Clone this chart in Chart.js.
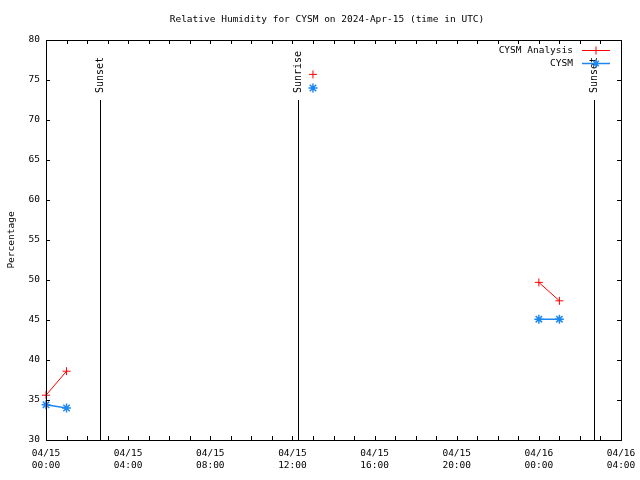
<!DOCTYPE html>
<html>
<head>
<meta charset="utf-8">
<script src="https://cdn.jsdelivr.net/npm/chart.js@4/dist/chart.umd.min.js"></script>
<style>
  html, body { margin: 0; padding: 0; background: #fff; }
  canvas { display: block; }
</style>
</head>
<body>
<canvas id="rhChart" width="640" height="480"></canvas>
<script>
// hours since 04/15 00:00 UTC
const hours = [0, 1, 13, 24, 25];
const analysisValues = [35.6, 38.6, 75.7, 49.7, 47.4];
const observedValues = [34.4, 34.0, 74.0, 45.1, 45.1];

const sunHours = [2.63, 12.27, 26.68];
const sunLabels = ["Sunset", "Sunrise", "Sunset"];
const sunLineTop = 72.5;

const xLabelHours = [0, 4, 8, 12, 16, 20, 24, 28];
const xLabelText = [
  ["04/15", "00:00"], ["04/15", "04:00"], ["04/15", "08:00"], ["04/15", "12:00"],
  ["04/15", "16:00"], ["04/15", "20:00"], ["04/16", "00:00"], ["04/16", "04:00"]
];

const titleText = "Relative Humidity for CYSM on 2024-Apr-15 (time in UTC)";

const RED = "#ff0000";
const BLUE = "#1e88ee";
const FONT = "'DejaVu Sans Mono', monospace";

Chart.defaults.font.family = FONT;
Chart.defaults.font.size = 9.5;
Chart.defaults.color = "#000";

const toPoints = (vals) => hours.map((h, i) => ({ x: h, y: vals[i] }));

// sunrise/sunset markers
const sunPlugin = {
  id: "sunLines",
  beforeDatasetsDraw(chart) {
    const { ctx, scales: { x, y } } = chart;
    ctx.save();
    ctx.strokeStyle = "#000";
    ctx.lineWidth = 1;
    ctx.fillStyle = "#000";
    ctx.font = "10px " + FONT;
    sunHours.forEach((h, i) => {
      const px = Math.round(x.getPixelForValue(h)) + 0.5;
      const top = y.getPixelForValue(sunLineTop);
      ctx.beginPath();
      ctx.moveTo(px, y.getPixelForValue(30));
      ctx.lineTo(px, top);
      ctx.stroke();
      ctx.save();
      ctx.translate(px, top - 7);
      ctx.rotate(-Math.PI / 2);
      ctx.textAlign = "left";
      ctx.textBaseline = "middle";
      ctx.fillText(sunLabels[i], 0, 0);
      ctx.restore();
    });
    ctx.restore();
  }
};

// gnuplot style frame, inward ticks, title and legend
const framePlugin = {
  id: "frame",
  afterDraw(chart) {
    const { ctx, chartArea: a, scales: { x, y } } = chart;
    ctx.save();
    ctx.strokeStyle = "#000";
    ctx.lineWidth = 1;
    ctx.strokeRect(Math.round(a.left) + 0.5, Math.round(a.top) + 0.5,
      Math.round(a.right - a.left), Math.round(a.bottom - a.top));
    ctx.beginPath();
    x.ticks.forEach(t => {
      const px = Math.round(x.getPixelForValue(t.value)) + 0.5;
      ctx.moveTo(px, a.bottom); ctx.lineTo(px, a.bottom - 4);
      ctx.moveTo(px, a.top); ctx.lineTo(px, a.top + 4);
    });
    y.ticks.forEach(t => {
      const py = Math.round(y.getPixelForValue(t.value)) + 0.5;
      ctx.moveTo(a.left, py); ctx.lineTo(a.left + 4, py);
      ctx.moveTo(a.right, py); ctx.lineTo(a.right - 4, py);
    });
    ctx.stroke();

    ctx.font = "9.5px " + FONT;
    ctx.fillStyle = "#000";
    ctx.textAlign = "center";
    ctx.textBaseline = "middle";
    ctx.fillText(titleText, 327, 19.5);

    // legend
    ctx.textAlign = "right";
    const items = [
      { label: "CYSM Analysis", color: RED, star: false, lw: 1 },
      { label: "CYSM", color: BLUE, star: true, lw: 1.5 }
    ];
    items.forEach((it, i) => {
      const yy = 50 + i * 13 + 0.5;
      ctx.fillStyle = "#000";
      ctx.fillText(it.label, 573, yy);
      ctx.strokeStyle = it.color;
      ctx.lineWidth = it.lw;
      ctx.beginPath();
      ctx.moveTo(582, yy); ctx.lineTo(610, yy);
      const cx = 596, r = 4;
      ctx.moveTo(cx, yy - r); ctx.lineTo(cx, yy + r);
      if (it.star) {
        const d = r * 0.707;
        ctx.moveTo(cx - d, yy - d); ctx.lineTo(cx + d, yy + d);
        ctx.moveTo(cx - d, yy + d); ctx.lineTo(cx + d, yy - d);
      } else {
        ctx.moveTo(cx - r, yy); ctx.lineTo(cx + r, yy);
      }
      ctx.stroke();
    });
    ctx.restore();
  }
};

new Chart(document.getElementById("rhChart").getContext("2d"), {
  type: "line",
  data: {
    datasets: [
      {
        label: "CYSM Analysis",
        data: toPoints(analysisValues),
        borderColor: RED,
        backgroundColor: RED,
        borderWidth: 1,
        pointStyle: "cross",
        pointRadius: 4,
        pointBorderWidth: 1,
        pointHoverRadius: 4,
        spanGaps: 3,
        tension: 0,
        clip: false
      },
      {
        label: "CYSM",
        data: toPoints(observedValues),
        borderColor: BLUE,
        backgroundColor: BLUE,
        borderWidth: 1.5,
        pointStyle: "star",
        pointRadius: 4.5,
        pointBorderWidth: 1.5,
        pointHoverRadius: 4.5,
        spanGaps: 3,
        tension: 0,
        clip: false
      }
    ]
  },
  options: {
    responsive: false,
    animation: false,
    layout: { padding: { left: 0, right: 19, top: 40, bottom: 0 } },
    plugins: {
      legend: { display: false },
      tooltip: { enabled: false },
      title: { display: false }
    },
    scales: {
      x: {
        type: "linear",
        min: 0,
        max: 28,
        grid: { display: false, drawTicks: false, tickLength: 0 },
        border: { display: false },
        ticks: {
          stepSize: 1,
          autoSkip: false,
          maxRotation: 0,
          padding: 8,
          font: { size: 9.5, lineHeight: 1.26 },
          callback: (v) => {
            const i = xLabelHours.indexOf(v);
            return i >= 0 ? xLabelText[i] : "";
          }
        },
        afterFit: (s) => { s.height = 40; s.paddingLeft = 0; s.paddingRight = 0; }
      },
      y: {
        min: 30,
        max: 80,
        grid: { display: false, drawTicks: false, tickLength: 0 },
        border: { display: false },
        ticks: { stepSize: 5, padding: 6 },
        title: {
          display: true,
          text: "Percentage",
          font: { size: 9.5 },
          padding: { top: 6, bottom: 0 }
        },
        afterFit: (s) => { s.width = 46; s.paddingTop = 0; s.paddingBottom = 0; }
      }
    }
  },
  plugins: [sunPlugin, framePlugin]
});
</script>
</body>
</html>
